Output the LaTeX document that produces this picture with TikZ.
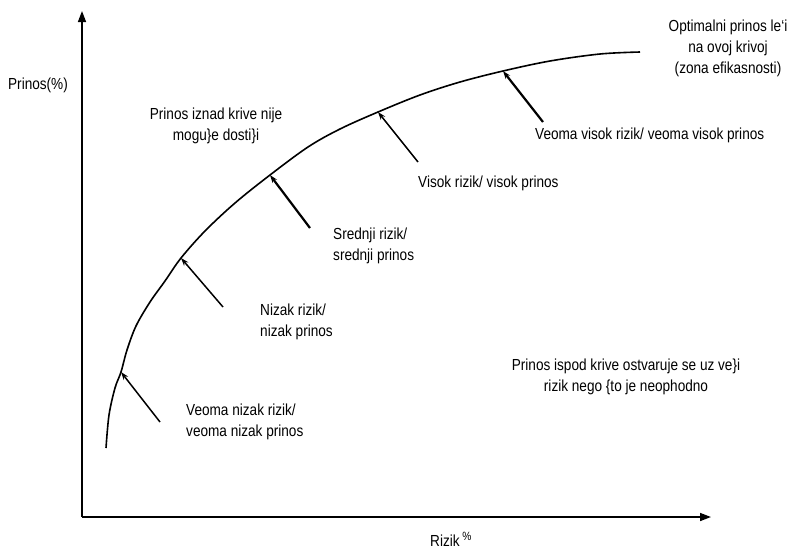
\documentclass[tikz,border=0pt]{standalone}
\usepackage{fontspec}
\setmainfont[FakeStretch=0.85]{Liberation Sans}
\usetikzlibrary{arrows.meta}
\begin{document}
\begin{tikzpicture}[x=1pt,y=-1pt,
  lbl/.style={font=\fontsize{16}{21}\selectfont, inner sep=0pt, align=center},
  lbll/.style={lbl, align=left, anchor=west},
  axis/.style={line width=1.5pt, -{Triangle[length=11pt,width=8pt]}},
  curveline/.style={line width=1.6pt},
  ptr/.style={line width=1.5pt, -{Stealth[length=8pt,width=5.5pt]}},
  ptrb/.style={ptr, line width=2.2pt}]
\useasboundingbox (0,0) rectangle (791,550);
% axes
\coordinate (O) at (82,517);
\coordinate (Ytop) at (82,11);
\coordinate (Xend) at (711,517);
\draw[axis] (O) -- (Ytop);
\draw[axis] (O) -- (Xend);
% curve points
\coordinate (h1) at (121,372);
\coordinate (h2) at (181,258);
\coordinate (h3) at (270,175);
\coordinate (h4) at (378,112);
\coordinate (h5) at (503,71);
\draw[curveline] plot[smooth, tension=0.55] coordinates {
  (106,448) (109,415) (115,388) (h1) (127,350) (136,326) (150,302)
  (165,281) (h2) (205,231) (235,203) (h3) (308,147) (340,129) (h4)
  (420,95) (460,82) (h5) (550,61) (600,54) (640,52)};
% pointer tails
\coordinate (t1) at (160,422);
\coordinate (t2) at (223,307);
\coordinate (t3) at (310,228);
\coordinate (t4) at (418,162);
\coordinate (t5) at (543,122);
\draw[ptr] (t1) -- (h1);
\draw[ptr] (t2) -- (h2);
\draw[ptrb] (t3) -- (h3);
\draw[ptr] (t4) -- (h4);
\draw[ptrb] (t5) -- (h5);
% labels
\node[lbl] (ylab) at (38,85) {Prinos(\%)};
\node[lbl] (above) at (216,126) {Prinos iznad krive nije\\mogu\}e dosti\}i};
\node[lbl] (opt) at (728,48) {Optimalni prinos le\symbol{"60}i\\na ovoj krivoj\\(zona efikasnosti)};
\node[lbll] (vv) at (535,135) {Veoma visok rizik/ veoma visok prinos};
\node[lbll] (vis) at (418,183) {Visok rizik/ visok prinos};
\node[lbll] (sred) at (333,246) {Srednji rizik/\\srednji prinos};
\node[lbll] (niz) at (260,322) {Nizak rizik/\\nizak prinos};
\node[lbll] (vniz) at (186,422) {Veoma nizak rizik/\\veoma nizak prinos};
\node[lbl] (below) at (626,377) {Prinos ispod krive ostvaruje se uz ve\}i\\rizik nego \{to je neophodno};
\node[lbl, anchor=west] (rizik) at (430,539) {Rizik\,\raisebox{6pt}{\fontsize{12}{12}\selectfont\%}};
\end{tikzpicture}
\end{document}
